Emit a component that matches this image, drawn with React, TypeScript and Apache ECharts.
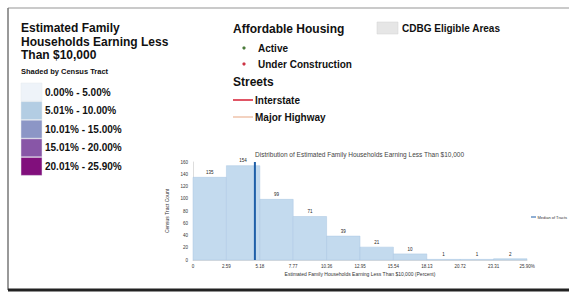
import React, { useEffect, useRef } from "react";
import * as echarts from "echarts";

// ---- data ----
const binEdges = [0, 2.59, 5.18, 7.77, 10.36, 12.95, 15.54, 18.13, 20.72, 23.31, 25.9];
const binCounts = [135, 154, 99, 71, 39, 21, 10, 1, 1, 2];
const xTickLabels = ["0", "2.59", "5.18", "7.77", "10.36", "12.95", "15.54", "18.13", "20.72", "23.31", "25.90%"];
const medianValue = 4.8;

const legendRanges = ["0.00% - 5.00%", "5.01% - 10.00%", "10.01% - 15.00%", "15.01% - 20.00%", "20.01% - 25.90%"];
const legendColors = ["#eef3f9", "#b3cde3", "#8c96c6", "#8856a7", "#810f7c"];

const chartTitle = "Distribution of Estimated Family Households Earning Less Than $10,000";
const xAxisName = "Estimated Family Households Earning Less Than $10,000 (Percent)";
const yAxisName = "Census Tract Count";

const FONT = "'Liberation Sans', Arial, sans-serif";

export default function App() {
  const ref = useRef<HTMLDivElement>(null);
  useEffect(() => {
    if (!ref.current) return;
    const chart = echarts.init(ref.current, null, { renderer: "svg" });

    const histData = binCounts.map((c, i) => [binEdges[i], binEdges[i + 1], c]);

    const graphics: any[] = [];
    // frame
    graphics.push({ type: "line", shape: { x1: 8, y1: 8, x2: 569, y2: 8 }, style: { stroke: "#b8b8b8", lineWidth: 1.5 } });
    graphics.push({ type: "line", shape: { x1: 8, y1: 8, x2: 8, y2: 290 }, style: { stroke: "#777", lineWidth: 1.5 } });
    graphics.push({ type: "line", shape: { x1: 8, y1: 290, x2: 569, y2: 290 }, style: { stroke: "#222", lineWidth: 3 } });

    // left legend title
    const titleLines = ["Estimated Family", "Households Earning Less", "Than $10,000"];
    titleLines.forEach((t, i) => {
      graphics.push({
        type: "text", x: 21, y: 28 + i * 13.5,
        style: { text: t, font: `bold 12px ${FONT}`, fill: "#111", textVerticalAlign: "middle" },
      });
    });
    graphics.push({
      type: "text", x: 21, y: 71,
      style: { text: "Shaded by Census Tract", font: `bold 7.5px ${FONT}`, fill: "#111", textVerticalAlign: "middle" },
    });
    legendRanges.forEach((t, i) => {
      const cy = 92 + i * 18.6;
      graphics.push({
        type: "rect", shape: { x: 21, y: cy - 9, width: 21, height: 18 },
        style: { fill: legendColors[i], stroke: "#e4e8ee", lineWidth: 0.5 },
      });
      graphics.push({
        type: "text", x: 45, y: cy,
        style: { text: t, font: `bold 10px ${FONT}`, fill: "#111", textVerticalAlign: "middle" },
      });
    });

    // middle legend
    graphics.push({ type: "text", x: 233, y: 29, style: { text: "Affordable Housing", font: `bold 12px ${FONT}`, fill: "#111", textVerticalAlign: "middle" } });
    graphics.push({ type: "circle", shape: { cx: 244, cy: 48, r: 1.6 }, style: { fill: "#4a7a3a" } });
    graphics.push({ type: "text", x: 258, y: 48, style: { text: "Active", font: `bold 10px ${FONT}`, fill: "#111", textVerticalAlign: "middle" } });
    graphics.push({ type: "circle", shape: { cx: 244, cy: 64, r: 1.6 }, style: { fill: "#cc3344" } });
    graphics.push({ type: "text", x: 258, y: 64, style: { text: "Under Construction", font: `bold 10px ${FONT}`, fill: "#111", textVerticalAlign: "middle" } });
    graphics.push({ type: "text", x: 233, y: 82, style: { text: "Streets", font: `bold 12px ${FONT}`, fill: "#111", textVerticalAlign: "middle" } });
    graphics.push({ type: "line", shape: { x1: 233, y1: 100, x2: 253, y2: 100 }, style: { stroke: "#e05565", lineWidth: 2 } });
    graphics.push({ type: "text", x: 255, y: 100, style: { text: "Interstate", font: `bold 10px ${FONT}`, fill: "#111", textVerticalAlign: "middle" } });
    graphics.push({ type: "line", shape: { x1: 233, y1: 117, x2: 253, y2: 117 }, style: { stroke: "#f3d2c0", lineWidth: 2 } });
    graphics.push({ type: "text", x: 255, y: 117, style: { text: "Major Highway", font: `bold 10px ${FONT}`, fill: "#111", textVerticalAlign: "middle" } });

    // CDBG
    graphics.push({ type: "rect", shape: { x: 377, y: 22, width: 21, height: 12 }, style: { fill: "#e6e6e6", stroke: "#d0d0d0", lineWidth: 0.5 } });
    graphics.push({ type: "text", x: 402, y: 28.5, style: { text: "CDBG Eligible Areas", font: `bold 10px ${FONT}`, fill: "#111", textVerticalAlign: "middle" } });

    // median legend (right)
    graphics.push({ type: "line", shape: { x1: 531, y1: 217, x2: 536, y2: 217 }, style: { stroke: "#1f5fa8", lineWidth: 1 } });
    graphics.push({ type: "text", x: 537.5, y: 217, style: { text: "Median of Tracts", font: `4px ${FONT}`, fill: "#333", textVerticalAlign: "middle" } });

    chart.setOption({
      animation: false,
      backgroundColor: "#fff",
      title: {
        text: chartTitle,
        left: 250, top: 146,
        textStyle: { fontSize: 6.5, fontWeight: "normal", color: "#444", fontFamily: FONT },
      },
      grid: { left: 193, right: 42, top: 162, bottom: 37 },
      xAxis: {
        type: "value", min: 0, max: 25.9, interval: 2.59,
        name: xAxisName, nameLocation: "middle", nameGap: 11,
        nameTextStyle: { fontSize: 5, color: "#333", fontFamily: FONT },
        axisLine: { show: true, lineStyle: { color: "#bbb", width: 0.5 } },
        axisTick: { show: false },
        splitLine: { show: false },
        axisLabel: {
          fontSize: 4.5, color: "#333", margin: 4, fontFamily: FONT,
          formatter: (v: number) => xTickLabels[Math.round(v / 2.59)] ?? "",
        },
      },
      yAxis: {
        type: "value", min: 0, max: 160, interval: 20,
        name: yAxisName, nameLocation: "middle", nameGap: 19, nameRotate: 90,
        nameTextStyle: { fontSize: 5, color: "#333", fontFamily: FONT },
        axisLine: { show: true, lineStyle: { color: "#bbb", width: 0.5 } },
        axisTick: { show: false },
        splitLine: { show: false },
        axisLabel: { fontSize: 4.5, color: "#333", margin: 5, fontFamily: FONT },
      },
      series: [
        {
          type: "custom",
          data: histData,
          encode: { x: [0, 1], y: 2 },
          renderItem: (params: any, api: any) => {
            const s = api.value(0), e = api.value(1), c = api.value(2);
            const p0 = api.coord([s, c]);
            const p1 = api.coord([e, 0]);
            return {
              type: "rect",
              shape: { x: p0[0], y: p0[1], width: p1[0] - p0[0], height: p1[1] - p0[1] },
              style: { fill: "#c3daee", stroke: "#a8c6e2", lineWidth: 0.5 },
              textContent: { style: { text: String(c), fontSize: 4.5, fill: "#222", fontFamily: FONT } },
              textConfig: { position: "top", distance: 2 },
            };
          },
        },
        {
          type: "line",
          data: [[medianValue, 0], [medianValue, 160]],
          symbol: "none",
          lineStyle: { color: "#1f5fa8", width: 2 },
        },
      ],
      graphic: graphics,
    });
    return () => chart.dispose();
  }, []);
  return <div ref={ref} style={{ position: "fixed", left: 0, top: 0, width: 569, height: 297 }} />;
}
